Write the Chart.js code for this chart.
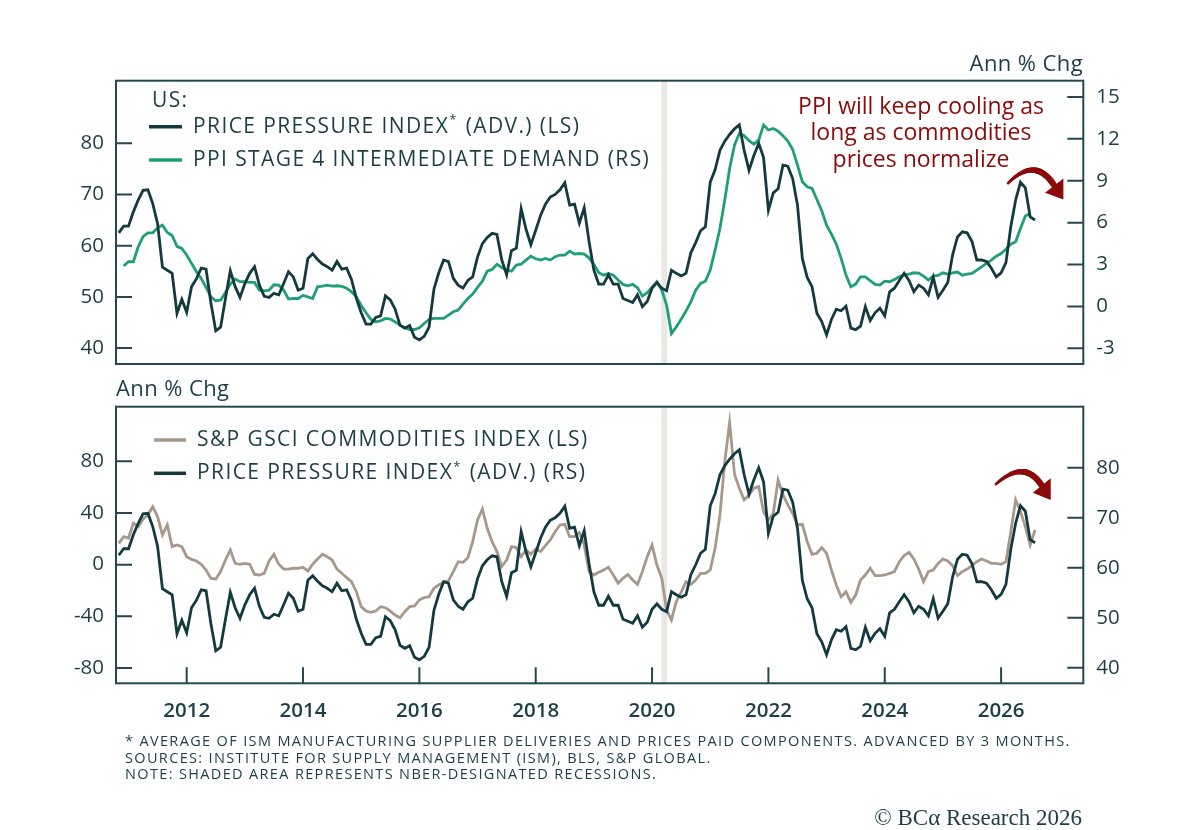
<!DOCTYPE html>
<html>
<head>
<meta charset="utf-8">
<script src="https://cdn.jsdelivr.net/npm/chart.js@4.4.1/dist/chart.umd.min.js"></script>
<style>
  html, body { margin: 0; padding: 0; background: #fff; }
  #page { position: relative; width: 1200px; height: 830px; overflow: hidden; color: #1c3e44; font-family: "Open Sans", Lato, sans-serif; }
  .panel { position: absolute; left: 0; width: 1200px; }
  #topPanel { top: 0; height: 380px; }
  #bottomPanel { top: 380px; height: 450px; }
  .txt { position: absolute; white-space: nowrap; }
  #unitTop { right: 117px; top: 49px; font-size: 22px; line-height: 26px; letter-spacing: 0.4px; }
  #unitBottom { left: 116px; top: 374px; font-size: 22px; line-height: 26px; letter-spacing: 0.4px; }
  #callout { left: 721px; width: 400px; top: 91.6px; text-align: center; font-size: 23px; line-height: 26.7px; color: #8b0a0a; }
  #notes { left: 125px; top: 733px; font-size: 14.5px; line-height: 16.7px; letter-spacing: 1.35px; }
  #brand { right: 118px; top: 805px; font-size: 23px; line-height: 26px; font-family: "Liberation Serif", "DejaVu Serif", serif; }
</style>
</head>
<body>
<div id="page">
  <div class="panel" id="topPanel"><canvas id="topChart" width="1200" height="380"></canvas></div>
  <div class="panel" id="bottomPanel"><canvas id="bottomChart" width="1200" height="450"></canvas></div>
  <div class="txt" id="unitTop">Ann % Chg</div>
  <div class="txt" id="unitBottom">Ann % Chg</div>
  <div class="txt" id="callout">PPI will keep cooling as<br>long as commodities<br>prices normalize</div>
  <div class="txt" id="notes">* AVERAGE OF ISM MANUFACTURING SUPPLIER DELIVERIES AND PRICES PAID COMPONENTS. ADVANCED BY 3 MONTHS.<br>SOURCES: INSTITUTE FOR SUPPLY MANAGEMENT (ISM), BLS, S&amp;P GLOBAL.<br>NOTE: SHADED AREA REPRESENTS NBER-DESIGNATED RECESSIONS.</div>
  <div class="txt" id="brand">© BCα Research 2026</div>
</div>
<script>
// monthly observations, first one is Nov 2010
const startYear = 2010 + 10 / 12;

// price pressure index (advanced 3 months), index level
const ppiIndex = [
  62.5, 63.8, 63.8, 66.6, 68.9, 70.8, 70.9, 68.2, 64.3, 55.8,
  55.2, 54.6, 46.8, 49.5, 47.0, 52.0, 53.5, 55.6, 55.4, 48.8,
  43.4, 44.1, 49.7, 55.1, 52.0, 49.9, 52.6, 54.6, 55.9, 52.3,
  50.1, 49.9, 50.7, 50.4, 52.6, 54.9, 53.9, 51.3, 51.7, 57.5,
  58.4, 57.3, 56.4, 55.9, 55.2, 56.9, 55.4, 55.6, 53.4, 49.7,
  46.9, 44.7, 44.7, 46.0, 46.3, 50.2, 49.4, 47.6, 44.5, 43.9,
  44.4, 42.1, 41.6, 42.3, 44.1, 51.5, 54.7, 57.2, 56.9, 53.6,
  52.3, 51.7, 53.2, 53.9, 57.8, 60.4, 61.6, 62.4, 62.2, 57.2,
  54.3, 59.0, 59.5, 67.2, 63.2, 60.2, 63.0, 65.9, 68.1, 69.5,
  70.0, 70.9, 72.3, 67.9, 68.1, 64.4, 67.4, 60.8, 55.2, 52.5,
  52.5, 54.3, 52.5, 52.5, 49.7, 49.3, 48.9, 50.4, 48.1, 49.1,
  51.7, 52.8, 51.7, 51.2, 55.2, 54.6, 54.1, 54.6, 58.6, 60.6,
  62.9, 63.7, 72.4, 74.8, 78.6, 80.4, 81.7, 82.8, 83.6, 78.6,
  74.7, 77.6, 80.0, 77.2, 66.9, 70.3, 71.1, 75.7, 75.5, 73.1,
  67.9, 57.5, 53.8, 52.0, 46.8, 45.2, 42.6, 45.6, 47.6, 47.3,
  48.2, 43.9, 43.6, 44.3, 48.1, 45.4, 46.9, 47.8, 46.3, 51.0,
  51.7, 53.2, 54.6, 53.2, 51.0, 52.3, 51.7, 50.4, 53.8, 49.9,
  51.3, 52.8, 58.2, 61.7, 62.7, 62.5, 60.8, 57.2, 57.2, 56.9,
  55.6, 53.9, 54.7, 56.7, 63.7, 68.9, 72.4, 71.3, 65.6, 65.0
];

// PPI stage 4 intermediate demand, ann % chg
const ppiStage4 = [
  null, 2.89, 3.20, 3.20, 4.27, 4.99, 5.27, 5.27, 5.63, 5.82,
  5.30, 5.08, 4.30, 4.15, 3.68, 3.08, 2.48, 2.00, 1.36, 0.69,
  0.41, 0.45, 1.00, 1.60, 1.96, 1.77, 1.77, 1.72, 1.72, 1.17,
  1.12, 1.17, 1.55, 1.53, 1.17, 0.53, 0.57, 0.57, 0.79, 0.69,
  0.57, 1.41, 1.46, 1.53, 1.46, 1.48, 1.43, 1.31, 1.05, 0.69,
  0.07, -0.45, -0.93, -1.10, -1.03, -0.86, -0.90, -1.10, -1.34, -1.53,
  -1.65, -1.65, -1.53, -1.22, -0.93, -0.86, -0.86, -0.86, -0.62, -0.38,
  -0.26, 0.17, 0.57, 0.88, 1.36, 1.81, 2.53, 2.65, 3.01, 2.79,
  2.60, 2.53, 2.96, 3.03, 3.32, 3.60, 3.41, 3.32, 3.44, 3.32,
  3.56, 3.68, 3.68, 3.96, 3.75, 3.79, 3.75, 3.48, 3.01, 2.41,
  2.24, 2.36, 2.24, 1.89, 1.58, 1.48, 1.58, 1.34, 0.74, 0.98,
  1.38, 1.77, 1.17, 0.10, -1.93, -1.46, -0.91, -0.33, 0.33, 1.17,
  1.65, 1.81, 2.60, 4.03, 5.58, 7.61, 9.88, 11.55, 12.39, 12.22,
  11.86, 11.62, 11.91, 12.98, 12.63, 12.74, 12.55, 12.22, 11.84, 11.24,
  10.12, 8.93, 8.57, 8.45, 7.66, 6.85, 5.82, 5.18, 4.46, 3.44,
  2.24, 1.41, 1.60, 2.12, 2.12, 1.84, 1.58, 1.53, 1.81, 1.77,
  1.93, 2.12, 2.24, 2.32, 2.41, 2.39, 2.17, 1.89, 2.17, 2.22,
  2.41, 2.32, 2.41, 2.46, 2.24, 2.32, 2.36, 2.60, 2.84, 3.10,
  3.32, 3.60, 3.79, 4.10, 4.46, 4.63, 5.58, 6.47, 6.66, null
];

// S&P GSCI commodities index, ann % chg
const gsci = [
  16.5, 21.7, 20.4, 32.0, 29.4, 35.3, 38.4, 44.9, 37.2, 23.0,
  30.7, 13.9, 15.2, 13.9, 6.2, 4.1, 2.8, 0.3, -4.1, -10.6,
  -11.1, -5.4, 3.6, 11.4, 1.0, 0.3, 1.0, 0.3, -7.5, -8.0,
  -6.7, 2.8, 8.0, 0.3, -3.4, -3.4, -2.8, -2.8, -2.1, -4.9,
  0.3, 4.4, 8.0, 6.2, 3.6, -3.4, -6.7, -10.1, -13.2, -20.9,
  -32.5, -35.9, -36.9, -35.9, -32.5, -33.3, -35.9, -39.0, -41.0, -36.4,
  -32.5, -32.0, -27.3, -25.5, -24.8, -18.3, -15.7, -13.7, -12.6, -5.4,
  2.3, 1.8, 5.4, 17.8, 34.6, 43.1, 28.1, 17.8, 10.1, -1.5,
  3.6, 13.9, 13.2, 6.2, 11.4, 8.0, 12.1, 10.1, 14.7, 19.1,
  25.5, 30.7, 31.2, 21.7, 21.7, 24.8, 15.2, -5.4, -8.0, -5.9,
  -4.1, -2.1, -8.0, -14.4, -10.6, -7.5, -11.9, -15.2, -5.4, 6.2,
  15.2, -0.3, -10.6, -35.1, -42.8, -28.6, -21.4, -13.2, -15.2, -11.9,
  -6.7, -6.7, -4.1, 12.6, 38.4, 80.0, 110.0, 70.0, 59.1, 50.1,
  53.9, 59.1, 60.4, 41.0, 34.6, 39.7, 65.5, 53.9, 46.2, 39.7,
  30.7, 31.2, 17.8, 8.0, 8.8, 13.2, 8.8, -4.1, -15.7, -24.8,
  -20.9, -29.2, -23.5, -11.9, -8.0, -2.8, -8.5, -8.5, -8.0, -6.7,
  -5.4, 2.3, 7.0, 9.5, 4.4, -3.4, -13.2, -5.4, -4.1, 1.0,
  4.4, 2.8, -0.8, -8.5, -5.4, -3.4, -0.8, 2.3, 4.4, 2.8,
  1.0, 1.0, 0.3, 2.3, 25.5, 50.1, 41.0, 29.4, 15.2, 26.8
];

const yearTicks = [2012, 2014, 2016, 2018, 2020, 2022, 2024, 2026];
const topLeftTicks = [40, 50, 60, 70, 80];
const topRightTicks = [-3, 0, 3, 6, 9, 12, 15];
const bottomLeftTicks = [-80, -40, 0, 40, 80];
const bottomRightTicks = [40, 50, 60, 70, 80];
const recessionBands = [[2020.16, 2020.26]];

const INK = '#1c3e44';
const FRAME = '#24484e';
const DARK = '#143a40';
const GREEN = '#1f9e78';
const SAND = '#a6988a';
const RED = '#8b0a0a';
const FONT = '"Open Sans", Lato, sans-serif';

const monthsX = ppiIndex.map((_, i) => startYear + i / 12);
const toPoints = (values) => values.map((v, i) => ({ x: monthsX[i], y: v }));

const fixTicks = (values) => (scale) => {
  scale.ticks = values.map((v) => ({ value: v }));
};

const yAxis = (position, min, max, ticks, width, pad) => ({
  type: 'linear',
  position,
  min,
  max,
  afterBuildTicks: fixTicks(ticks),
  afterFit: (scale) => {
    scale.width = width;
    // labels sit well inside the frame, so no overhang padding is needed
    scale.paddingTop = 0;
    scale.paddingBottom = 0;
  },
  grid: { display: false, drawTicks: false },
  border: { display: false },
  ticks: { color: INK, padding: pad, font: { family: FONT, size: 20.5 } }
});

const xAxis = (display) => ({
  type: 'linear',
  min: 2010.785,
  max: 2027.413,
  display,
  afterBuildTicks: fixTicks(yearTicks),
  afterFit: (scale) => {
    scale.height = display ? 50 : 0;
    scale.paddingLeft = 0;
    scale.paddingRight = 0;
  },
  grid: { display: false, drawTicks: false },
  border: { display: false },
  ticks: { color: INK, padding: 16, font: { family: FONT, size: 20.5, weight: '600' }, callback: (v) => String(v) }
});

const bezierPoint = (s, c, e, t) => [
  (1 - t) * (1 - t) * s[0] + 2 * (1 - t) * t * c[0] + t * t * e[0],
  (1 - t) * (1 - t) * s[1] + 2 * (1 - t) * t * c[1] + t * t * e[1]
];

const LEGEND_SIZE = 21;
const LEGEND_SPACING = '1.4px';

const drawLabel = (ctx, text, x, y) => {
  // a '*' in the label is drawn as a small raised star
  const parts = text.split('*');
  let cx = x;
  parts.forEach((part, i) => {
    ctx.font = `${LEGEND_SIZE}px ${FONT}`;
    ctx.fillText(part, cx, y);
    cx += ctx.measureText(part).width;
    if (i < parts.length - 1) {
      ctx.font = `13px ${FONT}`;
      ctx.fillText('*', cx, y - 6);
      cx += ctx.measureText('*').width + 1;
    }
  });
};

const panelPlugin = {
  id: 'panel',
  beforeDatasetsDraw(chart) {
    const { ctx, chartArea: a, scales } = chart;
    ctx.save();
    ctx.fillStyle = '#e9e8e2';
    recessionBands.forEach(([s, e]) => {
      const x0 = scales.x.getPixelForValue(s);
      const x1 = scales.x.getPixelForValue(e);
      ctx.fillRect(x0, a.top, x1 - x0, a.bottom - a.top);
    });
    ctx.restore();
  },
  afterDatasetsDraw(chart, args, opts) {
    const { ctx, chartArea: a, scales } = chart;
    ctx.save();

    // frame and inward tick marks
    ctx.strokeStyle = FRAME;
    ctx.lineWidth = 2;
    ctx.strokeRect(a.left, a.top, a.right - a.left, a.bottom - a.top);
    ctx.beginPath();
    ['y', 'y1'].forEach((id) => {
      const s = scales[id];
      s.ticks.forEach((t) => {
        const py = s.getPixelForValue(t.value);
        if (s.position === 'left') {
          ctx.moveTo(a.left, py); ctx.lineTo(a.left + 16, py);
        } else {
          ctx.moveTo(a.right - 16, py); ctx.lineTo(a.right, py);
        }
      });
    });
    if (opts.xTicks) {
      scales.x.ticks.forEach((t) => {
        const px = scales.x.getPixelForValue(t.value);
        ctx.moveTo(px, a.bottom); ctx.lineTo(px, a.bottom - 16);
      });
    }
    ctx.stroke();

    // legend
    const lg = opts.legend;
    ctx.fillStyle = INK;
    ctx.textBaseline = 'middle';
    ctx.textAlign = 'left';
    ctx.letterSpacing = LEGEND_SPACING;
    if (lg.title) {
      ctx.font = `${LEGEND_SIZE}px ${FONT}`;
      ctx.fillText(lg.title, a.left + lg.titleX, a.top + lg.titleY);
    }
    lg.items.forEach((item, i) => {
      const y = a.top + lg.rows[i];
      ctx.strokeStyle = item.color;
      ctx.lineWidth = 3.5;
      ctx.beginPath();
      ctx.moveTo(a.left + lg.lineX[0], y);
      ctx.lineTo(a.left + lg.lineX[1], y);
      ctx.stroke();
      drawLabel(ctx, item.label, a.left + lg.textX, y);
    });
    ctx.letterSpacing = '0px';

    // curved arrow
    const ar = opts.arrow;
    if (ar) {
      const ys = scales[ar.axis];
      const P = ([vx, vy]) => [scales.x.getPixelForValue(vx), ys.getPixelForValue(vy)];
      const s = P(ar.from), c = P(ar.via), e = P(ar.to);
      ctx.strokeStyle = RED;
      ctx.fillStyle = RED;
      ctx.lineCap = 'round';
      let prev = s;
      const steps = 24;
      for (let k = 1; k <= steps; k += 1) {
        const t = k / steps;
        const pt = bezierPoint(s, c, e, t);
        ctx.lineWidth = 2.5 + 3.5 * Math.min(1, t * 1.6);
        ctx.beginPath();
        ctx.moveTo(prev[0], prev[1]);
        ctx.lineTo(pt[0], pt[1]);
        ctx.stroke();
        prev = pt;
      }
      const head = ar.head.map(P);
      ctx.beginPath();
      ctx.moveTo(head[0][0], head[0][1]);
      ctx.lineTo(head[1][0], head[1][1]);
      ctx.lineTo(head[2][0], head[2][1]);
      ctx.closePath();
      ctx.fill();
    }
    ctx.restore();
  }
};

Chart.defaults.font.family = FONT;

new Chart(document.getElementById('topChart'), {
  type: 'line',
  data: {
    datasets: [
      {
        label: 'PRICE PRESSURE INDEX* (ADV.) (LS)',
        data: toPoints(ppiIndex),
        yAxisID: 'y',
        borderColor: DARK,
        borderWidth: 2.8,
        pointRadius: 0,
        order: 1
      },
      {
        label: 'PPI STAGE 4 INTERMEDIATE DEMAND (RS)',
        data: toPoints(ppiStage4),
        yAxisID: 'y1',
        borderColor: GREEN,
        borderWidth: 2.8,
        pointRadius: 0,
        order: 2
      }
    ]
  },
  options: {
    responsive: false,
    animation: false,
    layout: { padding: { top: 80.7, bottom: 16, left: 0, right: 0 } },
    scales: {
      x: xAxis(false),
      y: yAxis('left', 36.9, 92.2, topLeftTicks, 116, 12),
      y1: yAxis('right', -4.12, 16.16, topRightTicks, 116.7, 13)
    },
    plugins: {
      legend: { display: false },
      tooltip: { enabled: false },
      panel: {
        xTicks: false,
        legend: {
          title: 'US:',
          titleX: 36, titleY: 20,
          rows: [46, 79.3],
          lineX: [33, 66],
          textX: 77,
          items: [
            { label: 'PRICE PRESSURE INDEX* (ADV.) (LS)', color: DARK },
            { label: 'PPI STAGE 4 INTERMEDIATE DEMAND (RS)', color: GREEN }
          ]
        },
        arrow: {
          axis: 'y',
          from: [2026.12, 72.2],
          via: [2026.585, 77.5],
          to: [2026.91, 71.8],
          head: [[2027.07, 73.12], [2027.07, 69.03], [2026.755, 70.31]]
        }
      }
    }
  },
  plugins: [panelPlugin]
});

new Chart(document.getElementById('bottomChart'), {
  type: 'line',
  data: {
    datasets: [
      {
        label: 'S&P GSCI COMMODITIES INDEX (LS)',
        data: toPoints(gsci),
        yAxisID: 'y',
        borderColor: SAND,
        borderWidth: 2.8,
        pointRadius: 0,
        order: 2
      },
      {
        label: 'PRICE PRESSURE INDEX* (ADV.) (RS)',
        data: toPoints(ppiIndex),
        yAxisID: 'y1',
        borderColor: DARK,
        borderWidth: 2.8,
        pointRadius: 0,
        order: 1
      }
    ]
  },
  options: {
    responsive: false,
    animation: false,
    layout: { padding: { top: 26.7, bottom: 96.7, left: 0, right: 0 } },
    scales: {
      x: xAxis(true),
      y: yAxis('left', -91.8, 122.2, bottomLeftTicks, 116, 12),
      y1: yAxis('right', 36.9, 92.2, bottomRightTicks, 116.7, 13)
    },
    plugins: {
      legend: { display: false },
      tooltip: { enabled: false },
      panel: {
        xTicks: true,
        legend: {
          rows: [33.3, 66.6],
          lineX: [38, 70],
          textX: 81,
          items: [
            { label: 'S&P GSCI COMMODITIES INDEX (LS)', color: SAND },
            { label: 'PRICE PRESSURE INDEX* (ADV.) (RS)', color: DARK }
          ]
        },
        arrow: {
          axis: 'y1',
          from: [2025.913, 76.74],
          via: [2026.4025, 81.81],
          to: [2026.698, 76.44],
          head: [[2026.853, 77.88], [2026.853, 73.54], [2026.544, 75.0]]
        }
      }
    }
  },
  plugins: [panelPlugin]
});
</script>
</body>
</html>
